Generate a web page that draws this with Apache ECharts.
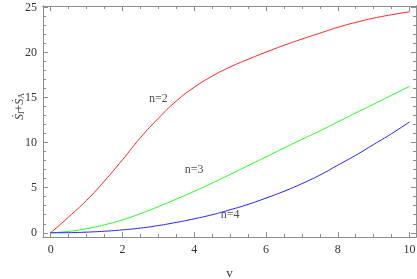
<!DOCTYPE html>
<html>
<head>
<meta charset="utf-8">
<script src="https://cdn.jsdelivr.net/npm/echarts@6/dist/echarts.min.js"></script>
<style>html,body{margin:0;padding:0;background:#fff}#c{width:417px;height:279px}</style>
</head>
<body>
<div id="c"></div>
<script>
const xMajor = [0, 2, 4, 6, 8, 10];
const xMinor = [0.5, 1, 1.5, 2.5, 3, 3.5, 4.5, 5, 5.5, 6.5, 7, 7.5, 8.5, 9, 9.5];
const yMajor = [0, 5, 10, 15, 20, 25];
const yMinor = [1, 2, 3, 4, 6, 7, 8, 9, 11, 12, 13, 14, 16, 17, 18, 19, 21, 22, 23, 24];

const vValues = [0, 0.5, 1, 1.5, 2, 2.5, 3, 3.5, 4, 4.5, 5, 5.5, 6, 6.5, 7, 7.5, 8, 8.5, 9, 9.5, 10];
const n2 = [0, 1.75, 3.6, 5.75, 8.1, 10.55, 12.7, 14.62, 16.15, 17.38, 18.4, 19.25, 20.05, 20.8, 21.5, 22.15, 22.8, 23.35, 23.82, 24.2, 24.53];
const n3 = [0, 0.15, 0.45, 0.88, 1.43, 2.12, 2.9, 3.73, 4.6, 5.52, 6.47, 7.45, 8.42, 9.4, 10.37, 11.3, 12.3, 13.3, 14.27, 15.26, 16.25];
const n4 = [0, 0.01, 0.07, 0.17, 0.32, 0.52, 0.8, 1.15, 1.55, 2.0, 2.55, 3.15, 3.85, 4.6, 5.45, 6.4, 7.5, 8.6, 9.8, 11.0, 12.3];

const labelNames = ['n=2', 'n=3', 'n=4'];
const labelX = [3.0, 4.0, 5.0];
const labelY = [14.9, 6.94, 1.94];

const frameColor = '#8c8c8c';
const font = "'Liberation Serif', 'Times New Roman', serif";

function xAx(pos, vals, len, showLabel, extra) {
  return Object.assign({
    type: 'value', position: pos, min: -0.2146, max: 10.18,
    axisLine: { show: true, onZero: false, lineStyle: { color: frameColor, width: 1 } },
    axisTick: { show: true, inside: true, length: len, customValues: vals, lineStyle: { color: frameColor } },
    axisLabel: { show: showLabel, customValues: xMajor, color: '#333', fontFamily: font, fontSize: 12, margin: 7 },
    splitLine: { show: false }
  }, extra || {});
}
function yAx(pos, vals, len, showLabel, extra) {
  return Object.assign({
    type: 'value', position: pos, min: -0.47, max: 25.17,
    axisLine: { show: true, onZero: false, lineStyle: { color: frameColor, width: 1 } },
    axisTick: { show: true, inside: true, length: len, customValues: vals, lineStyle: { color: frameColor } },
    axisLabel: { show: showLabel, customValues: yMajor, color: '#333', fontFamily: font, fontSize: 12, margin: 6 },
    splitLine: { show: false }
  }, extra || {});
}
const pairs = ys => vValues.map((x, i) => [x, ys[i]]);

const chart = echarts.init(document.getElementById('c'), null, { renderer: 'canvas' });
chart.setOption({
  animation: false,
  backgroundColor: '#fff',
  grid: { left: 43, right: 1, top: 6, bottom: 42, containLabel: false, outerBoundsMode: 'none' },
  xAxis: [
    xAx('bottom', xMajor, 5, true, { name: 'v', nameLocation: 'middle', nameGap: 30, nameMoveOverlap: false, nameTextStyle: { fontFamily: font, fontSize: 13, color: '#333' } }),
    xAx('bottom', xMinor, 3, false),
    xAx('top', xMajor, 5, false),
    xAx('top', xMinor, 3, false)
  ],
  yAxis: [
    yAx('left', yMajor, 5, true, {
      name: '{a|Ṡ}{s|I}{b|+}{a|Ṡ}{t|A}', nameLocation: 'middle', nameGap: 17, nameRotate: 90, nameMoveOverlap: false,
      nameTextStyle: { fontFamily: font, fontSize: 12, color: '#333', padding: [0, 0, 0, 30],
        rich: {
          a: { fontFamily: font, fontSize: 12, color: '#333', fontStyle: 'italic' },
          b: { fontFamily: font, fontSize: 12, color: '#333' },
          s: { fontFamily: font, fontSize: 8, color: '#333', fontStyle: 'italic', padding: [5, 0, 0, 0] },
          t: { fontFamily: font, fontSize: 8, color: '#333', padding: [5, 0, 0, 0] }
        } }
    }),
    yAx('left', yMinor, 3, false),
    yAx('right', yMajor, 5, false),
    yAx('right', yMinor, 3, false)
  ],
  series: [
    { type: 'line', data: pairs(n2), smooth: true, symbol: 'none', lineStyle: { color: '#ff2020', width: 1 }, xAxisIndex: 0, yAxisIndex: 0 },
    { type: 'line', data: pairs(n3), smooth: true, symbol: 'none', lineStyle: { color: '#20ff20', width: 1 }, xAxisIndex: 0, yAxisIndex: 0 },
    { type: 'line', data: pairs(n4), smooth: true, symbol: 'none', lineStyle: { color: '#2020ff', width: 1 }, xAxisIndex: 0, yAxisIndex: 0 },
    { type: 'scatter', symbolSize: 0, xAxisIndex: 0, yAxisIndex: 0,
      data: labelNames.map((n, i) => ({ name: n, value: [labelX[i], labelY[i]] })),
      label: { show: true, position: 'inside', formatter: p => p.name, fontFamily: font, fontSize: 12, color: '#222' } }
  ]
});
</script>
</body>
</html>
